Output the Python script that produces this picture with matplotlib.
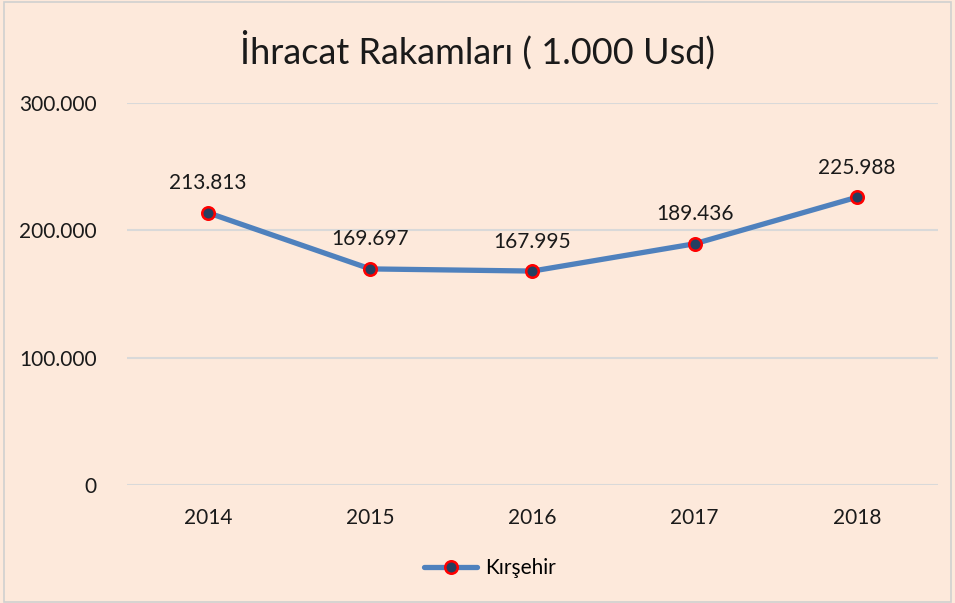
import matplotlib.pyplot as plt
from matplotlib.patches import Rectangle

years = ['2014', '2015', '2016', '2017', '2018']
values = [213813, 169697, 167995, 189436, 225988]
labels = ['213.813', '169.697', '167.995', '189.436', '225.988']
yticks = [0, 100000, 200000, 300000]
ytick_labels = ['0', '100.000', '200.000', '300.000']

bg = '#FDE9DB'
plt.rcParams['font.family'] = ['Lato', 'DejaVu Sans']

fig = plt.figure(figsize=(9.55, 6.03), dpi=100, facecolor=bg)
ax = fig.add_axes([0.133, 0.196, 0.849, 0.633])
ax.set_facecolor(bg)

x = list(range(len(years)))
ax.plot(x, values, color='#4F81BD', linewidth=3.8, marker='o', markersize=9,
        markerfacecolor='#243F60', markeredgecolor='#FF0000', markeredgewidth=1.8,
        label='Kırşehir', solid_capstyle='round', zorder=3)

for xi, v, lab in zip(x, values, labels):
    ax.annotate(lab, (xi, v), xytext=(0, 14), textcoords='offset points',
                ha='center', va='bottom', fontsize=15, color='#1a1a1a')

ax.set_xlim(-0.5, 4.5)
ax.set_ylim(0, 300000)
ax.set_yticks(yticks)
ax.set_yticklabels(ytick_labels)
ax.set_xticks(x)
ax.set_xticklabels(years)
ax.tick_params(length=0, labelsize=15, labelcolor='#1a1a1a')
ax.tick_params(axis='x', pad=17)
ax.tick_params(axis='y', pad=22)
ax.grid(axis='y', color='#D9D9D9', linewidth=1.5)
ax.set_axisbelow(True)
for s in ax.spines.values():
    s.set_visible(False)

fig.text(0.5, 0.918, 'İhracat Rakamları ( 1.000 Usd)', ha='center', va='center',
         fontsize=26, color='#1a1a1a')

fig.legend(loc='center', bbox_to_anchor=(0.513, 0.058), frameon=False, fontsize=15,
           handlelength=2.55, handletextpad=0.35)

fig.patches.append(Rectangle((0.004, 0.002), 0.992, 0.994, transform=fig.transFigure,
                             fill=False, edgecolor='#D0D0D0', linewidth=1.2))

fig.savefig('out.png', dpi=100, facecolor=bg)
